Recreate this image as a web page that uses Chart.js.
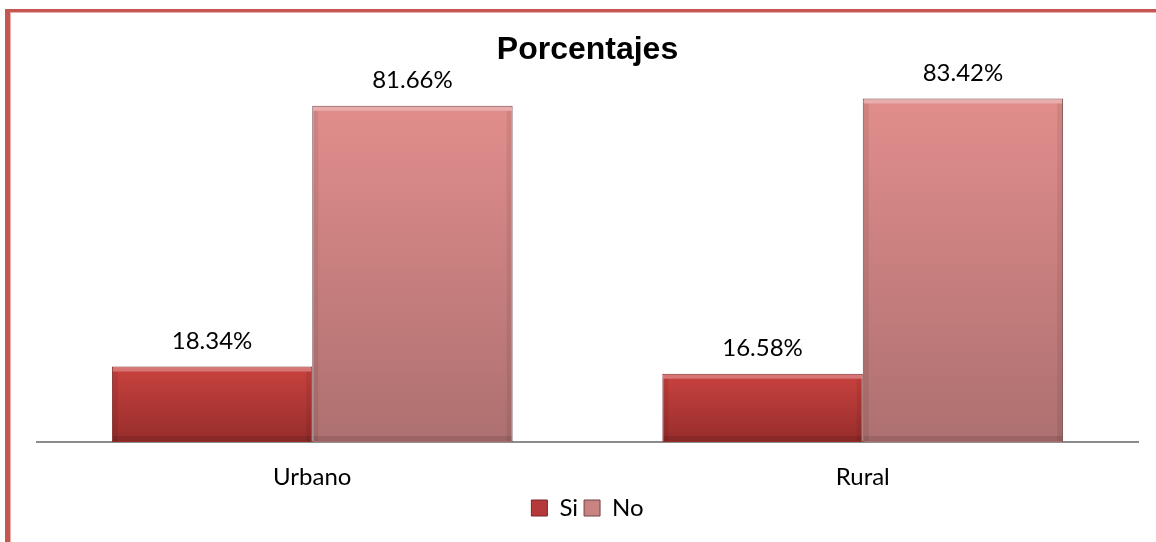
<!DOCTYPE html>
<html>
<head>
<meta charset="utf-8">
<script src="https://cdn.jsdelivr.net/npm/chart.js@4.4.1/dist/chart.umd.min.js"></script>
<style>
  body { margin: 0; background: #fff; }
  #wrap { position: relative; width: 1156px; height: 542px; overflow: hidden; }
  #chart_area { position: absolute; left: 0; top: 0; }
  #frame {
    position: absolute; left: 5px; top: 9px; right: -20px; bottom: -20px;
    border-left: 5px solid #c55753; border-top: 3px solid #c55753;
    box-shadow: inset 1px 1px 0 #e8aeac;
    pointer-events: none;
  }
</style>
</head>
<body>
<div id="wrap">
  <canvas id="chart_area" width="1156" height="542"></canvas>
  <div id="frame"></div>
</div>
<script>
const categories = ['Urbano', 'Rural'];
const siValues = [18.34, 16.58];
const noValues = [81.66, 83.42];
const seriesNames = ['Si', 'No'];

let ctx = document.getElementById('chart_area').getContext('2d');

// gradient over each bar's own height (top -> base)
const makeFill = (top, bottom, solid) => function (c) {
  const y = c.chart.scales.y;
  if (!y || c.raw === undefined) return solid;
  const yTop = y.getPixelForValue(c.raw);
  const yBase = y.getPixelForValue(0);
  if (!isFinite(yTop) || !isFinite(yBase) || yTop === yBase) return solid;
  const g = c.chart.ctx.createLinearGradient(0, yTop, 0, yBase);
  g.addColorStop(0, top);
  g.addColorStop(1, bottom);
  return g;
};

// light top edge + soft side shading, a bit like the excel bevel
const bevel = {
  id: 'bevel',
  afterDatasetsDraw(chart) {
    const c = chart.ctx;
    c.save();
    chart.data.datasets.forEach((ds, i) => {
      chart.getDatasetMeta(i).data.forEach((bar) => {
        const left = bar.x - bar.width / 2;
        const h = bar.base - bar.y;
        c.fillStyle = 'rgba(255,255,255,0.28)';
        c.fillRect(left + 1, bar.y + 1, bar.width - 2, 4);
        c.fillStyle = 'rgba(0,0,0,0.07)';
        c.fillRect(left + 1, bar.y + 5, 5, h - 6);
        c.fillRect(left + bar.width - 6, bar.y + 5, 5, h - 6);
        c.fillStyle = 'rgba(0,0,0,0.10)';
        c.fillRect(left + 1, bar.base - 6, bar.width - 2, 5);
      });
    });
    c.restore();
  }
};

const valueLabels = {
  id: 'valueLabels',
  afterDatasetsDraw(chart) {
    const c = chart.ctx;
    c.save();
    c.font = '24px Lato';
    c.fillStyle = '#000';
    c.textAlign = 'center';
    c.textBaseline = 'middle';
    chart.data.datasets.forEach((ds, i) => {
      chart.getDatasetMeta(i).data.forEach((bar, j) => {
        c.fillText(ds.data[j].toFixed(2) + '%', bar.x, bar.y - 25);
      });
    });
    c.restore();
  }
};

let chart = new Chart(ctx, {
  type: 'bar',
  data: {
    labels: categories,
    datasets: [
      {
        label: seriesNames[0],
        data: siValues,
        backgroundColor: makeFill('#c9423f', '#962d2b', '#b03634'),
        borderColor: '#7a2422',
        borderWidth: 1,
        legendColor: '#b5393a'
      },
      {
        label: seriesNames[1],
        data: noValues,
        backgroundColor: makeFill('#e18e8c', '#ad7070', '#c98382'),
        borderColor: '#6e4444',
        borderWidth: 1,
        legendColor: '#c98382'
      }
    ]
  },
  options: {
    responsive: false,
    animation: false,
    layout: { padding: { left: 37, right: 18, top: 0, bottom: 12 } },
    datasets: {
      bar: { barPercentage: 1, categoryPercentage: 0.728 }
    },
    scales: {
      x: {
        grid: { display: false, drawTicks: false },
        border: { display: true, color: '#8c8c8c', width: 2 },
        ticks: {
          color: '#000',
          padding: 23,
          font: { family: 'Lato', size: 24, lineHeight: 1 }
        },
        afterFit(scale) {
          scale.height = 48;
        }
      },
      y: {
        display: false,
        min: 0,
        max: 90
      }
    },
    plugins: {
      title: {
        display: true,
        text: 'Porcentajes',
        color: '#000',
        font: { family: 'Liberation Sans', size: 32, weight: 'bold' },
        padding: { top: 31, bottom: 2 }
      },
      legend: {
        position: 'bottom',
        labels: {
          color: '#000',
          boxWidth: 16,
          boxHeight: 16,
          padding: 6,
          font: { family: 'Lato', size: 24 },
          generateLabels(chart) {
            const items = Chart.defaults.plugins.legend.labels.generateLabels(chart);
            items.forEach((it, i) => {
              it.fillStyle = chart.data.datasets[i].legendColor;
            });
            return items;
          }
        }
      },
      tooltip: { enabled: false }
    }
  },
  plugins: [bevel, valueLabels]
});
</script>
</body>
</html>
